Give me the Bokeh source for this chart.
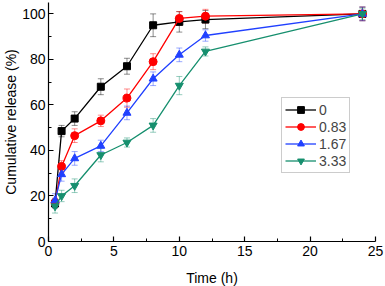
from bokeh.plotting import figure
from bokeh.models import Range1d, Whisker, ColumnDataSource, Legend, LegendItem, TeeHead, FixedTicker
from bokeh.embed import file_html
from bokeh.resources import INLINE

time_h = [0.5, 1, 2, 4, 6, 8, 10, 12, 24]
series_names = ["0", "0.83", "1.67", "3.33"]
rel_0 = [16.7, 48.5, 54, 68, 77, 95, 96.5, 97.5, 100]
rel_083 = [17, 33, 46.5, 53, 63, 79, 98, 99, 100]
rel_167 = [18, 29.5, 36.5, 42, 56.5, 71.5, 82, 90.5, 100]
rel_333 = [15.5, 20, 24.5, 38, 43.5, 51, 68.5, 83.5, 100]
err_0 = [2, 2.5, 3, 3.5, 3.5, 5, 4.5, 4, 3]
err_083 = [2, 2.5, 3, 2.5, 4, 3.5, 3, 3, 3]
err_167 = [3, 3, 3, 2.5, 3, 3, 3, 2.5, 3]
err_333 = [3, 2.5, 3, 3, 2, 3, 4, 2, 2.5]

colors = ["#000000", "#ff0000", "#2040ff", "#168f6e"]
markers = ["square", "circle", "triangle", "inverted_triangle"]
msizes = [7, 8, 8, 8]
values = [rel_0, rel_083, rel_167, rel_333]
errors = [err_0, err_083, err_167, err_333]

p = figure(frame_width=327, frame_height=239, output_backend="svg", toolbar_location=None,
           x_range=Range1d(0, 25), y_range=Range1d(0, 105),
           min_border_right=9, min_border_top=2, min_border_bottom=45, min_border_left=46)
p.outline_line_color = None
p.grid.grid_line_color = None
p.background_fill_color = "white"

FONT = "Liberation Sans"
for ax in [p.xaxis[0], p.yaxis[0]]:
    ax.axis_line_width = 1.2
    ax.axis_line_color = "black"
    ax.major_tick_in = 5
    ax.major_tick_out = 0
    ax.minor_tick_in = 3
    ax.minor_tick_out = 0
    ax.major_tick_line_color = "black"
    ax.minor_tick_line_color = "black"
    ax.major_tick_line_width = 1.2
    ax.major_label_text_font = FONT
    ax.major_label_text_font_size = "14px"
    ax.major_label_text_color = "black"
    ax.axis_label_text_font = FONT
    ax.axis_label_text_font_size = "14px"
    ax.axis_label_text_font_style = "normal"
    ax.axis_label_text_color = "black"

p.xaxis.ticker = FixedTicker(ticks=[0, 5, 10, 15, 20, 25], minor_ticks=[2.5, 7.5, 12.5, 17.5, 22.5])
p.yaxis.ticker = FixedTicker(ticks=[0, 20, 40, 60, 80, 100], minor_ticks=[10, 30, 50, 70, 90])
p.xaxis.axis_label = "Time (h)"
p.yaxis.axis_label = "Cumulative release (%)"
p.xaxis.major_label_standoff = 4
p.xaxis.axis_label_standoff = 11
p.yaxis.major_label_standoff = 3
p.yaxis.axis_label_standoff = 0

items = []
for name, vals, errs, c, m, s in zip(series_names, values, errors, colors, markers, msizes):
    src = ColumnDataSource(dict(x=time_h, y=vals,
                                lo=[v - e for v, e in zip(vals, errs)],
                                hi=[v + e for v, e in zip(vals, errs)]))
    w = Whisker(source=src, base="x", lower="lo", upper="hi",
                line_color=c, line_alpha=0.45, line_width=1,
                upper_head=TeeHead(size=6, line_color=c, line_alpha=0.45),
                lower_head=TeeHead(size=6, line_color=c, line_alpha=0.45))
    p.add_layout(w)
    l = p.line("x", "y", source=src, line_color=c, line_width=1.3)
    sc = p.scatter("x", "y", source=src, marker=m, size=s, fill_color=c, line_color=c)
    items.append(LegendItem(label=name, renderers=[l, sc]))

legend = Legend(items=items, location=(233, 68), border_line_color="#999999",
                border_line_width=1, background_fill_color="white", background_fill_alpha=1,
                label_text_font=FONT, label_text_font_size="14px",
                glyph_width=31, glyph_height=17, label_height=17, label_standoff=3,
                spacing=0, padding=3, margin=0)
p.add_layout(legend, "center")

open("out.html", "w").write(file_html(p, INLINE))
